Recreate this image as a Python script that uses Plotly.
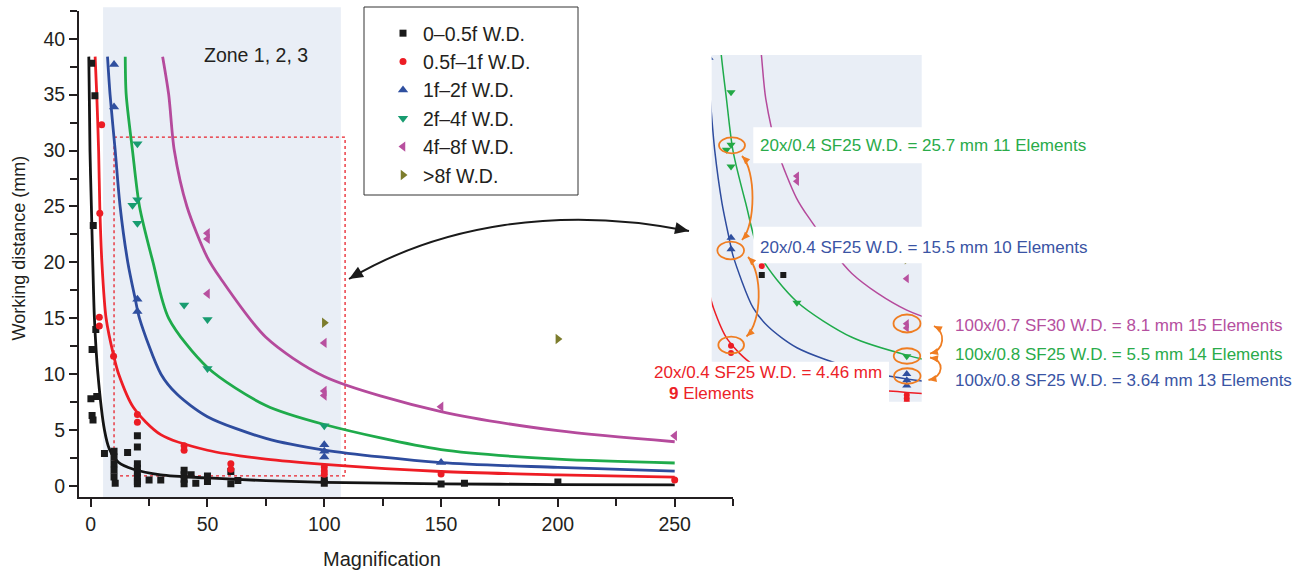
import plotly.graph_objects as go

W, H = 1309, 572
FONT = "Liberation Sans, Arial, Helvetica, sans-serif"

# ---------------- measured objectives: magnification vs working distance ----------------
black_x = [0.4, 1.8, 1.1, 0.1, 2.6, 0.6, 1.0, 0.6, 2.2, 5.9,
           10, 10, 10, 10, 10, 10.5, 15.8,
           20, 20, 20, 20, 20, 20, 20, 20,
           25, 30, 40, 40, 40, 40, 43, 45, 50, 50, 60, 60, 63,
           100, 100, 150, 160, 200]
black_y = [37.8, 34.9, 23.3, 7.8, 8.0, 6.3, 5.9, 12.2, 14.0, 2.9,
           3.1, 2.6, 2.0, 1.4, 0.8, 0.24, 3.0,
           4.5, 3.5, 2.0, 1.6, 1.2, 0.8, 0.4, 0.2,
           0.54, 0.54, 1.4, 1.0, 0.6, 0.2, 1.0, 0.25, 0.9, 0.4, 1.3, 0.2, 0.5,
           0.24, 0.54, 0.18, 0.24, 0.36]

red_x = [4.7, 3.9, 3.7, 3.7, 9.8, 20, 20, 40, 40, 60, 60, 100, 100, 100, 150, 250]
red_y = [32.3, 24.4, 15.1, 14.3, 11.6, 6.4, 5.7, 3.6, 3.2, 2.0, 1.5, 1.7, 1.35, 1.05, 1.07, 0.54]

blue_x = [10, 10, 20, 20, 100, 100, 100, 150]
blue_y = [37.7, 33.9, 16.7, 15.6, 3.7, 3.1, 2.6, 2.1]

green_x = [20, 17.9, 20, 20, 40, 50, 50, 100]
green_y = [30.6, 25.1, 25.6, 23.5, 16.2, 14.9, 10.5, 5.4]

magenta_x = [50, 50, 50, 100, 100, 100, 150, 250]
magenta_y = [22.6, 22.1, 17.2, 12.8, 8.5, 8.1, 7.1, 4.5]

olive_x = [100, 200]
olive_y = [14.6, 13.15]

# extra objectives shown only in the enlarged view
inset_black_x = [34, 43.8]
inset_black_y = [13.15, 13.15]
inset_red_x = [34]
inset_red_y = [14.0]

# ---------------- trend curves (sampled) ----------------
black_curve_x = [-0.8, -0.3, 0.3, 0.9, 1.6, 3.1, 5.9, 8.0, 12.0, 18.3, 30, 50, 75, 100, 150, 200, 250]
black_curve_y = [38.4, 30.0, 25.0, 20.0, 15.0, 10.0, 5.0, 3.3, 2.1, 1.5, 1.0, 0.72, 0.48, 0.33, 0.2, 0.13, 0.1]

red_curve_x = [1.9, 2.6, 3.4, 3.9, 4.8, 6.6, 9.9, 12.0, 18.4, 30, 50, 75, 100, 150, 200, 250]
red_curve_y = [38.4, 35.0, 30.0, 25.0, 20.0, 15.0, 11.6, 10.0, 7.0, 4.6, 3.2, 2.4, 1.94, 1.3, 1.0, 0.8]

blue_curve_x = [7.2, 8.3, 10.5, 12.6, 15.9, 19.1, 20.9, 30.1, 37, 50, 75, 100, 150, 200, 250]
blue_curve_y = [38.4, 35.0, 30.0, 25.0, 20.0, 16.7, 15.0, 10.0, 8.2, 6.2, 4.26, 3.22, 2.09, 1.67, 1.34]

green_curve_x = [14.8, 15.2, 17.9, 20.9, 26.7, 33.4, 50, 75, 100, 150, 200, 250]
green_curve_y = [38.4, 35.0, 30.0, 25.0, 20.0, 15.0, 10.6, 7.2, 5.5, 3.25, 2.4, 2.06]

magenta_curve_x = [30.8, 33.4, 35.8, 41.2, 49.8, 55.5, 75, 100, 150, 200, 250]
magenta_curve_y = [38.4, 35.0, 30.0, 25.0, 20.5, 18.6, 13.3, 9.8, 6.65, 4.95, 3.96]

x_ticks = [0, 50, 100, 150, 200, 250]
y_ticks = [0, 5, 10, 15, 20, 25, 30, 35, 40]

series = [
    ("0–0.5f W.D.", black_x, black_y, "square", "#1a1a1a", 7),
    ("0.5f–1f W.D.", red_x, red_y, "circle", "#ec1c24", 7),
    ("1f–2f W.D.", blue_x, blue_y, "triangle-up", "#2f4f9f", 9),
    ("2f–4f W.D.", green_x, green_y, "triangle-down", "#189c70", 9),
    ("4f–8f W.D.", magenta_x, magenta_y, "triangle-left", "#b8509f", 9),
    (">8f W.D.", olive_x, olive_y, "triangle-right", "#7c7c2c", 9),
]
curves = [
    (black_curve_x, black_curve_y, "#141414"),
    (red_curve_x, red_curve_y, "#ee1d25"),
    (blue_curve_x, blue_curve_y, "#2e4c9e"),
    (green_curve_x, green_curve_y, "#1fab4b"),
    (magenta_curve_x, magenta_curve_y, "#b54a9c"),
]

fig = go.Figure()

# main panel curves and points
for cx, cy, col in curves:
    fig.add_trace(go.Scatter(x=cx, y=cy, mode="lines", line=dict(color=col, width=2.8, shape="spline", smoothing=0.8),
                             showlegend=False, hoverinfo="skip"))
for name, xs, ys, sym, col, size in series:
    fig.add_trace(go.Scatter(x=xs, y=ys, mode="markers", name=name,
                             marker=dict(symbol=sym, color=col, size=size, line=dict(width=0))))

# enlarged view (second axes pair)
for cx, cy, col in curves:
    fig.add_trace(go.Scatter(x=cx, y=cy, mode="lines", xaxis="x2", yaxis="y2",
                             line=dict(color=col, width=1.5, shape="spline", smoothing=0.8),
                             showlegend=False, hoverinfo="skip"))
inset_colors = {"square": "#1a1a1a", "circle": "#ec1c24", "triangle-up": "#2f4f9f",
                "triangle-down": "#22a845", "triangle-left": "#b8509f", "triangle-right": "#7c7c2c"}
for name, xs, ys, sym, col, size in series:
    fig.add_trace(go.Scatter(x=xs, y=ys, mode="markers", xaxis="x2", yaxis="y2", showlegend=False,
                             marker=dict(symbol=sym, color=inset_colors[sym], size=size - 1)))
fig.add_trace(go.Scatter(x=inset_black_x, y=inset_black_y, mode="markers", xaxis="x2", yaxis="y2", showlegend=False,
                         marker=dict(symbol="square", color="#1a1a1a", size=6)))
fig.add_trace(go.Scatter(x=inset_red_x, y=inset_red_y, mode="markers", xaxis="x2", yaxis="y2", showlegend=False,
                         marker=dict(symbol="circle", color="#ec1c24", size=6)))


def P(x, y):
    return f"{x / W:.5f},{1 - y / H:.5f}"


def head(tip, frm, length, width):
    dx, dy = tip[0] - frm[0], tip[1] - frm[1]
    n = (dx * dx + dy * dy) ** 0.5
    ux, uy = dx / n, dy / n
    bx, by = tip[0] - ux * length, tip[1] - uy * length
    nx, ny = -uy * width / 2, ux * width / 2
    return f"M{P(*tip)} L{P(bx + nx, by + ny)} L{P(bx - nx, by - ny)} Z"


def bez(p0, c1, c2, p3):
    return f"M{P(*p0)} C{P(*c1)} {P(*c2)} {P(*p3)}"


def prect(x0, y0, x1, y1, **kw):
    return dict(type="rect", xref="paper", yref="paper", x0=x0 / W, x1=x1 / W, y0=1 - y1 / H, y1=1 - y0 / H, **kw)


ORANGE = "#ef7d22"
shapes = [
    # shaded zone
    dict(type="rect", xref="x", yref="paper", x0=5.3, x1=107.1, y0=1 - 497 / H, y1=1 - 7.3 / H,
         fillcolor="#e9eef6", line=dict(width=0), layer="below"),
    # selection rectangle
    dict(type="rect", xref="x", yref="y", x0=10.0, x1=108.9, y0=0.9, y1=31.2,
         line=dict(color="#e8202a", width=1.3, dash="dot"), layer="below"),
    # enlarged view background
    prect(711.7, 55, 921.7, 401.7, fillcolor="#e9eef6", line=dict(width=0), layer="below"),
    # legend frame
    prect(364, 7, 578, 195, line=dict(color="#333333", width=1)),
    # label backgrounds
    prect(753.3, 127.3, 923, 163.3, fillcolor="white", line=dict(width=0), layer="above"),
    prect(753.3, 226.7, 923, 263.3, fillcolor="white", line=dict(width=0), layer="above"),
    prect(640, 361.7, 889, 410, fillcolor="white", line=dict(width=0), layer="above"),
]

# curved black connector
a0, a1, a2, a3 = (349, 279), (440, 225), (560, 205), (689, 231)
shapes.append(dict(type="path", xref="paper", yref="paper", path=bez(a0, a1, a2, a3),
                   line=dict(color="#1a1a1a", width=2), layer="above"))
for tip, frm in ((a0, a1), (a3, a2)):
    shapes.append(dict(type="path", xref="paper", yref="paper", path=head(tip, frm, 14, 12),
                       fillcolor="#1a1a1a", line=dict(width=0), layer="above"))

# orange highlight ellipses
for cx, cy, w, h in [(732, 145.3, 26, 16), (730.7, 250.5, 26.7, 17.6), (731.2, 345, 25.7, 16.7),
                     (907, 323.5, 27, 18), (907, 356, 26.5, 15.5), (907.3, 376, 26.5, 15.5)]:
    shapes.append(dict(type="circle", xref="paper", yref="paper",
                       x0=(cx - w / 2) / W, x1=(cx + w / 2) / W, y0=1 - (cy + h / 2) / H, y1=1 - (cy - h / 2) / H,
                       line=dict(color=ORANGE, width=1.8), layer="above"))

# orange double-headed connectors
for p0, c1, c2, p3 in [((742, 156), (756, 170), (756, 225), (742, 240)),
                       ((748, 257), (763, 272), (762, 322), (746.5, 336.5)),
                       ((934, 326), (946, 332), (945, 350), (930, 353.5)),
                       ((930, 357.5), (945, 360), (944, 377), (928.5, 380))]:
    shapes.append(dict(type="path", xref="paper", yref="paper", path=bez(p0, c1, c2, p3),
                       line=dict(color=ORANGE, width=1.8), layer="above"))
    for tip, frm in ((p0, c1), (p3, c2)):
        shapes.append(dict(type="path", xref="paper", yref="paper", path=head(tip, frm, 8, 7),
                           fillcolor=ORANGE, line=dict(width=0), layer="above"))


def note(text, x, y, color, size=17, **kw):
    return dict(text=text, xref="paper", yref="paper", x=x / W, y=1 - y / H, showarrow=False,
                font=dict(family=FONT, size=size, color=color), **kw)


annotations = [
    note("Zone 1, 2, 3", 256, 55, "#231f20", size=19.5, xanchor="center", yanchor="middle"),
    note("Magnification", 381.5, 558.5, "#231f20", size=20, xanchor="center", yanchor="middle"),
    note("Working distance (mm)", 18.5, 248, "#231f20", size=18, xanchor="center", yanchor="middle", textangle=-90),
    note("20x/0.4 SF25 W.D. = 25.7 mm 11 Elements", 758, 146, "#2aab4a", xanchor="left", yanchor="middle"),
    note("20x/0.4 SF25 W.D. = 15.5 mm 10 Elements", 758, 248, "#3a54a4", xanchor="left", yanchor="middle"),
    note("100x/0.7 SF30 W.D. = 8.1 mm 15 Elements", 953, 325, "#b5509f", xanchor="left", yanchor="middle"),
    note("100x/0.8 SF25 W.D. = 5.5 mm 14 Elements", 953, 354.3, "#2aab4a", xanchor="left", yanchor="middle"),
    note("100x/0.8 SF25 W.D. = 3.64 mm 13 Elements", 953, 380, "#3a54a4", xanchor="left", yanchor="middle"),
    note("20x/0.4 SF25 W.D. = 4.46 mm", 652, 372.7, "#ec2227", xanchor="left", yanchor="middle"),
    note("<b>9</b> Elements", 667, 393.3, "#ec2227", xanchor="left", yanchor="middle"),
]

axis_common = dict(showline=True, linewidth=2, linecolor="#231f20", ticks="outside", ticklen=8, tickwidth=2,
                   tickcolor="#231f20", showgrid=False, zeroline=False,
                   tickfont=dict(family=FONT, size=19.5, color="#231f20"))

fig.update_layout(
    width=W, height=H, autosize=False,
    margin=dict(l=0, r=0, t=0, b=0),
    paper_bgcolor="white", plot_bgcolor="rgba(0,0,0,0)",
    xaxis=dict(domain=[79 / W, 733.1 / W], range=[-5, 275], tickvals=x_ticks, anchor="y",
               minor=dict(dtick=25, tick0=0, ticks="outside", ticklen=7, tickwidth=2, tickcolor="#231f20",
                          showgrid=False),
               **axis_common),
    yaxis=dict(domain=[1 - 497.2 / H, 1 - 10.8 / H], range=[-1, 42.5], tickvals=y_ticks, anchor="x",
               minor=dict(dtick=2.5, tick0=0, ticks="outside", ticklen=7, tickwidth=2, tickcolor="#231f20",
                          showgrid=False),
               **axis_common),
    xaxis2=dict(domain=[711.7 / W, 921.7 / W], range=[11.2, 106.8], visible=False, anchor="y2"),
    yaxis2=dict(domain=[1 - 401.7 / H, 1 - 55 / H], range=[1.05, 34.16], visible=False, anchor="x2"),
    legend=dict(x=383 / W, y=1 - 14 / H, xanchor="left", yanchor="top", bgcolor="rgba(0,0,0,0)",
                borderwidth=0, font=dict(family=FONT, size=19.5, color="#231f20"), tracegroupgap=0),
    shapes=shapes,
    annotations=annotations,
    showlegend=True,
    hovermode=False,
)

fig.write_html("out.html")
